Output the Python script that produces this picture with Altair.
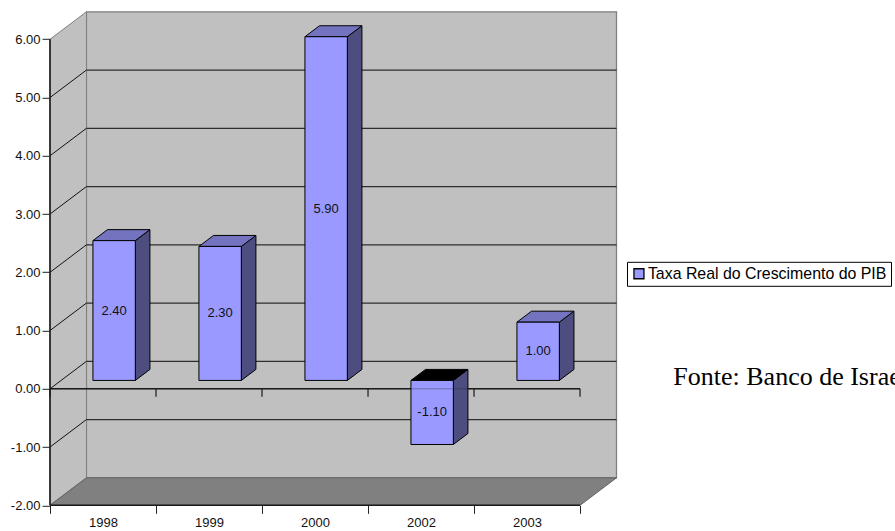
import altair as alt
import pandas as pd

years = ["1998", "1999", "2000", "2002", "2003"]
growth = [2.40, 2.30, 5.90, -1.10, 1.00]
series_name = "Taxa Real do Crescimento do PIB"
y_ticks = [-2, -1, 0, 1, 2, 3, 4, 5, 6]
source_note = "Fonte: Banco de Israel"

# Oblique projection: one full unit of depth shifts a point by these data amounts.
DX, DY = 0.344, 0.472
BAR_FRONT, BAR_BACK = 0.305, 0.705
N = len(years)
TOP = y_ticks[-1]
BOTTOM = y_ticks[0]

AXIS_FONT = dict(labelFont="Liberation Sans", labelFontSize=13, labelColor="#111111")
x_axis = alt.Axis(
    values=list(range(N + 1)),
    domain=False,
    grid=False,
    tickSize=8,
    tickColor="#222222",
    labelOffset=53,
    labelPadding=3,
    labelOverlap=False,
    labelFlush=False,
    labelExpr="datum.value < %d ? %s[datum.value] : ''" % (N, str(years)),
    **AXIS_FONT,
)
y_axis = alt.Axis(
    values=y_ticks,
    domain=False,
    grid=False,
    tickSize=8,
    tickColor="#222222",
    labelPadding=2,
    labelOverlap=False,
    labelFlush=False,
    labelExpr="replace(format(datum.value, '.2f'), '\u2212', '-')",
    **AXIS_FONT,
)
x_scale = alt.Scale(domain=[0, N + DX], nice=False, zero=False)
y_scale = alt.Scale(domain=[BOTTOM, TOP + DY], nice=False, zero=False)


def ex(field="x"):
    return alt.X(f"{field}:Q", scale=x_scale, axis=x_axis, title=None)


def ey(field="y"):
    return alt.Y(f"{field}:Q", scale=y_scale, axis=y_axis, title=None)


X2 = alt.X2("x2:Q")
Y2 = alt.Y2("y2:Q")


def segs(rows):
    return alt.Data(values=[dict(zip(("x", "y", "x2", "y2"), r)) for r in rows])


# Walls and floor
left_wall = pd.DataFrame({"x": [0, DX], "y": [BOTTOM, BOTTOM + DY], "y2": [TOP, TOP + DY]})
floor = pd.DataFrame({"y": [BOTTOM, BOTTOM + DY], "x": [0, DX], "x2": [N, N + DX]})
wall_left = alt.Chart(left_wall).mark_area(color="#c0c0c0", stroke="#808080", strokeWidth=1).encode(x=ex(), y=ey(), y2=Y2)
wall_back = (
    alt.Chart(segs([(DX, BOTTOM + DY, N + DX, TOP + DY)]))
    .mark_rect(fill="#c0c0c0", stroke="#808080", strokeWidth=1.3)
    .encode(x=ex(), x2=X2, y=ey(), y2=Y2)
)
wall_floor = (
    alt.Chart(floor)
    .mark_area(orient="horizontal", color="#808080", stroke="#606060", strokeWidth=1)
    .encode(y=ey(), x=ex(), x2=X2)
)

# Gridlines running round the left wall and along the back wall
grid_values = [v for v in y_ticks if v != BOTTOM and v != TOP]
grid_back = (
    alt.Chart(segs([(DX, v + DY, N + DX, v + DY) for v in grid_values]))
    .mark_rule(color="#2e2e2e", strokeWidth=1.3)
    .encode(x=ex(), x2=X2, y=ey(), y2=Y2)
)
grid_side = (
    alt.Chart(segs([(0, v, DX, v + DY) for v in grid_values]))
    .mark_rule(color="#111111", strokeWidth=1)
    .encode(x=ex(), x2=X2, y=ey(), y2=Y2)
)

# Axis lines and the category ticks hanging from the zero line
axis_lines = (
    alt.Chart(segs([(0, BOTTOM, 0, TOP), (0, 0, N, 0), (0, BOTTOM, N, BOTTOM)]))
    .mark_rule(color="#1a1a1a", strokeWidth=1.6)
    .encode(x=ex(), x2=X2, y=ey(), y2=Y2)
)
zero_ticks = (
    alt.Chart(segs([(i, 0, i, -0.137) for i in range(N + 1)]))
    .mark_rule(color="#1a1a1a", strokeWidth=1.2)
    .encode(x=ex(), x2=X2, y=ey(), y2=Y2)
)
zero_over = (
    alt.Chart(segs([(0, 0, N, 0)]))
    .mark_rule(color="#222222", strokeWidth=1, opacity=0.35)
    .encode(x=ex(), x2=X2, y=ey(), y2=Y2)
)

# Bars: front, side and top faces come from each growth value
bars = pd.DataFrame({"year": years, "v": growth, "i": range(N)})
bars["series"] = series_name
bars["label"] = [f"{v:.2f}" for v in growth]
bars["xl"] = bars.i + 0.3 + BAR_FRONT * DX
bars["xr"] = bars.xl + 0.4
bars["base"] = BAR_FRONT * DY
bars["cap"] = bars.v + BAR_FRONT * DY

side_rows, top_rows = [], []
for _, b in bars.iterrows():
    shift_x, shift_y = (BAR_BACK - BAR_FRONT) * DX, (BAR_BACK - BAR_FRONT) * DY
    hi, lo = max(b.cap, b.base), min(b.cap, b.base)
    side_rows += [
        {"k": b.year, "x": b.xr, "y": lo, "y2": hi},
        {"k": b.year, "x": b.xr + shift_x, "y": lo + shift_y, "y2": hi + shift_y},
    ]
    top_rows += [
        {"k": b.year, "y": hi, "x": b.xl, "x2": b.xr, "neg": bool(b.v < 0)},
        {"k": b.year, "y": hi + shift_y, "x": b.xl + shift_x, "x2": b.xr + shift_x, "neg": bool(b.v < 0)},
    ]

bar_side = (
    alt.Chart(pd.DataFrame(side_rows))
    .mark_area(color="#4d4d80", stroke="#000000", strokeWidth=1)
    .encode(x=ex(), y=ey(), y2=Y2, detail="k:N")
)
bar_top = (
    alt.Chart(pd.DataFrame(top_rows))
    .mark_area(orient="horizontal", stroke="#000000", strokeWidth=1)
    .encode(
        y=ey(),
        x=ex(),
        x2=X2,
        detail="k:N",
        fill=alt.condition("datum.neg", alt.value("#000000"), alt.value("#7373bf")),
    )
)
bar_front = (
    alt.Chart(bars)
    .mark_rect(stroke="#000000", strokeWidth=1)
    .encode(
        x=ex("xl"),
        x2="xr:Q",
        y=ey("base"),
        y2="cap:Q",
        fill=alt.Color(
            "series:N",
            scale=alt.Scale(range=["#9999ff"]),
            legend=alt.Legend(
                title=None,
                orient="none",
                legendX=577,
                legendY=250,
                strokeColor="#000000",
                fillColor="#ffffff",
                padding=4,
                symbolType="square",
                symbolSize=100,
                symbolStrokeColor="#000000",
                symbolStrokeWidth=1.3,
                labelFont="Liberation Sans",
                labelFontSize=15.9,
                labelColor="#000000",
                labelLimit=300,
                labelOffset=1,
            ),
        ),
    )
)
bar_labels = (
    alt.Chart(bars)
    .transform_calculate(mx="(datum.xl + datum.xr) / 2", my="(datum.base + datum.cap) / 2")
    .mark_text(font="Liberation Sans", fontSize=13, color="#111111")
    .encode(x=ex("mx"), y=ey("my"), text="label:N")
)

note = (
    alt.Chart(alt.Data(values=[{"t": source_note}]))
    .mark_text(font="Liberation Serif", fontSize=26, align="left", baseline="alphabetic", color="#000000")
    .encode(x=alt.value(623.3), y=alt.value(373.2), text="t:N")
)

chart = (
    alt.layer(
        wall_back, wall_left, wall_floor, grid_back, grid_side, axis_lines, zero_ticks,
        bar_side, bar_top, bar_front, zero_over, bar_labels, note,
    )
    .properties(
        width=566.5,
        height=493.5,
        autosize=alt.AutoSizeParams(type="none"),
        padding={"left": 50, "top": 11.8, "right": 278.5, "bottom": 25.7},
        background="#ffffff",
    )
    .configure_view(stroke=None)
)

chart.save("out.html", embed_options={"renderer": "svg", "actions": False})
